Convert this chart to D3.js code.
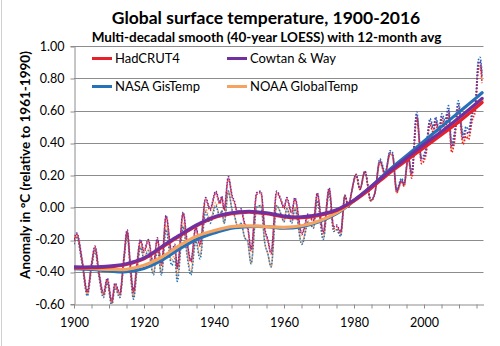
<!DOCTYPE html>
<html>
<head>
<meta charset="utf-8">
<script src="https://cdn.jsdelivr.net/npm/d3@7"></script>
<style>
  body { margin: 0; background: #fff; }
  svg { display: block; }
  text { font-family: Lato, "Open Sans", sans-serif; fill: #000; }
</style>
</head>
<body>
<svg id="chart" width="500" height="346"></svg>
<script>
// Sample times (decimal years) of the 12-month running averages
const avgYears = [
  1900.0, 1900.8, 1902.3, 1903.8, 1905.0, 1906.0, 1907.2, 1908.4, 1909.5, 1910.8,
  1911.7, 1913.1, 1914.2, 1915.2, 1916.1, 1917.0, 1918.0, 1919.0, 1920.0, 1921.2,
  1922.7, 1923.8, 1925.0, 1926.3, 1927.9, 1928.8, 1929.5, 1931.2, 1932.2, 1933.4,
  1934.8, 1936.0, 1937.6, 1938.9, 1940.5, 1941.7, 1942.2, 1942.9, 1944.1, 1945.2,
  1945.8, 1946.8, 1947.7, 1948.8, 1949.6, 1950.6, 1952.2, 1953.4, 1954.5, 1955.4,
  1956.3, 1957.9, 1959.1, 1960.0, 1960.8, 1962.2, 1963.1, 1965.1, 1967.0, 1968.4,
  1969.5, 1971.2, 1972.9, 1974.2, 1975.0, 1976.2, 1977.4, 1978.4, 1979.2, 1980.6,
  1981.7, 1983.1, 1984.8, 1985.9, 1987.4, 1988.9, 1990.3, 1991.0, 1992.2, 1993.6,
  1994.3, 1995.5, 1996.5, 1997.9, 1999.3, 2000.5, 2001.7, 2002.7, 2003.3, 2004.3,
  2005.1, 2006.0, 2007.0, 2007.9, 2008.6, 2009.8, 2011.2, 2012.0, 2012.7, 2013.8,
  2014.7, 2015.5, 2016.0, 2016.6
];

// 12-month average anomalies (°C, relative to 1961-1990)
const hadcrutAvg = [
  -0.21, -0.17, -0.33, -0.53, -0.36, -0.25, -0.42, -0.54, -0.45, -0.59,
  -0.48, -0.54, -0.33, -0.15, -0.36, -0.53, -0.35, -0.21, -0.28, -0.21,
  -0.36, -0.20, -0.36, -0.06, -0.28, -0.24, -0.38, -0.04, -0.20, -0.34,
  -0.13, -0.24, 0.05, -0.02, 0.09, 0.02, 0.06, -0.02, 0.18, 0.06,
  0.03, -0.04, -0.02, -0.11, -0.13, -0.27, 0.08, 0.09, -0.14, -0.21,
  -0.29, 0.09, 0.04, -0.01, 0.05, -0.04, 0.05, -0.17, -0.05, -0.09,
  0.08, -0.16, 0.11, -0.13, -0.12, -0.16, 0.07, 0.00, 0.08, 0.20,
  0.11, 0.22, 0.04, 0.08, 0.28, 0.20, 0.33, 0.32, 0.09, 0.16,
  0.13, 0.30, 0.18, 0.55, 0.27, 0.32, 0.51, 0.46, 0.52, 0.45,
  0.54, 0.48, 0.57, 0.34, 0.39, 0.60, 0.39, 0.44, 0.42, 0.54,
  0.60, 0.85, 0.87, 0.77
];
const cowtanAvg = [
  -0.20, -0.16, -0.32, -0.52, -0.35, -0.24, -0.41, -0.53, -0.44, -0.58,
  -0.47, -0.53, -0.32, -0.14, -0.35, -0.52, -0.34, -0.20, -0.27, -0.20,
  -0.35, -0.19, -0.35, -0.05, -0.27, -0.23, -0.37, -0.03, -0.19, -0.33,
  -0.12, -0.23, 0.06, -0.01, 0.10, 0.03, 0.07, -0.01, 0.19, 0.07,
  0.04, -0.03, -0.01, -0.10, -0.12, -0.26, 0.09, 0.10, -0.13, -0.20,
  -0.28, 0.10, 0.05, 0.00, 0.06, -0.03, 0.06, -0.16, -0.04, -0.08,
  0.09, -0.15, 0.12, -0.12, -0.11, -0.15, 0.075, 0.005, 0.085, 0.205,
  0.115, 0.225, 0.045, 0.085, 0.29, 0.21, 0.34, 0.33, 0.10, 0.17,
  0.14, 0.31, 0.205, 0.575, 0.295, 0.345, 0.535, 0.485, 0.545, 0.475,
  0.565, 0.515, 0.605, 0.375, 0.425, 0.635, 0.425, 0.475, 0.455, 0.575,
  0.635, 0.885, 0.905, 0.805
];
const nasaAvg = [
  -0.23, -0.19, -0.35, -0.55, -0.38, -0.27, -0.44, -0.56, -0.47, -0.61,
  -0.50, -0.56, -0.35, -0.17, -0.40, -0.57, -0.39, -0.25, -0.32, -0.27,
  -0.42, -0.26, -0.42, -0.14, -0.36, -0.32, -0.46, -0.12, -0.28, -0.42,
  -0.21, -0.32, -0.03, -0.10, 0.01, -0.06, -0.02, -0.10, 0.10, -0.02,
  -0.05, -0.12, -0.10, -0.19, -0.21, -0.35, 0.00, 0.01, -0.22, -0.29,
  -0.37, 0.01, -0.04, -0.09, -0.01, -0.10, -0.01, -0.23, -0.09, -0.13,
  0.04, -0.20, 0.09, -0.15, -0.14, -0.18, 0.07, 0.00, 0.08, 0.20,
  0.11, 0.22, 0.04, 0.08, 0.30, 0.22, 0.35, 0.34, 0.11, 0.18,
  0.15, 0.32, 0.22, 0.59, 0.31, 0.36, 0.55, 0.50, 0.56, 0.49,
  0.58, 0.54, 0.63, 0.40, 0.45, 0.66, 0.45, 0.50, 0.48, 0.60,
  0.66, 0.91, 0.93, 0.83
];
const noaaAvg = [
  -0.22, -0.18, -0.34, -0.54, -0.37, -0.26, -0.43, -0.55, -0.46, -0.60,
  -0.49, -0.55, -0.34, -0.16, -0.39, -0.56, -0.38, -0.24, -0.31, -0.26,
  -0.41, -0.25, -0.41, -0.11, -0.33, -0.29, -0.43, -0.10, -0.26, -0.40,
  -0.19, -0.30, -0.01, -0.08, 0.03, -0.06, -0.02, -0.10, 0.10, -0.02,
  -0.05, -0.12, -0.10, -0.19, -0.21, -0.35, 0.00, 0.01, -0.22, -0.29,
  -0.37, 0.01, -0.04, -0.09, 0.00, -0.09, 0.00, -0.22, -0.085, -0.125,
  0.045, -0.195, 0.095, -0.145, -0.135, -0.175, 0.07, 0.00, 0.08, 0.20,
  0.11, 0.22, 0.04, 0.08, 0.28, 0.20, 0.33, 0.32, 0.09, 0.16,
  0.13, 0.30, 0.195, 0.565, 0.285, 0.335, 0.525, 0.475, 0.535, 0.465,
  0.555, 0.495, 0.585, 0.355, 0.405, 0.615, 0.405, 0.455, 0.435, 0.555,
  0.615, 0.865, 0.885, 0.785
];

// Multi-decadal (40-year LOESS) smooth
const smoothYears = [
  1900, 1905, 1910, 1915, 1920, 1925, 1930, 1935, 1940, 1945, 1950, 1955,
  1960, 1965, 1970, 1975, 1980, 1985, 1990, 1995, 2000, 2005, 2010, 2015, 2016.6
];
const hadcrutSmooth = [
  -0.375, -0.375, -0.37, -0.355, -0.32, -0.25, -0.18, -0.115, -0.065, -0.04, -0.03, -0.04,
  -0.06, -0.065, -0.05, -0.02, 0.04, 0.12, 0.21, 0.29, 0.37, 0.45, 0.53, 0.62, 0.65
];
const cowtanSmooth = [
  -0.37, -0.37, -0.365, -0.35, -0.315, -0.245, -0.175, -0.11, -0.06, -0.035, -0.025, -0.035,
  -0.055, -0.06, -0.045, -0.015, 0.045, 0.13, 0.22, 0.305, 0.39, 0.47, 0.555, 0.645, 0.675
];
const nasaSmooth = [
  -0.38, -0.385, -0.395, -0.40, -0.38, -0.33, -0.26, -0.20, -0.16, -0.13, -0.12, -0.12,
  -0.13, -0.12, -0.09, -0.04, 0.04, 0.13, 0.23, 0.32, 0.41, 0.50, 0.59, 0.68, 0.71
];
const noaaSmooth = [
  -0.375, -0.38, -0.385, -0.385, -0.36, -0.31, -0.24, -0.18, -0.145, -0.12, -0.115, -0.12,
  -0.125, -0.115, -0.085, -0.035, 0.04, 0.125, 0.215, 0.30, 0.38, 0.46, 0.545, 0.635, 0.665
];

const seriesNames = ["HadCRUT4", "Cowtan & Way", "NASA GisTemp", "NOAA GlobalTemp"];
const seriesColors = ["#e8202a", "#7030a0", "#2672b8", "#f4a460"];

const yTickValues = [-0.6, -0.4, -0.2, 0.0, 0.2, 0.4, 0.6, 0.8, 1.0];
const yTickLabels = ["-0.60", "-0.40", "-0.20", "0.00", "0.20", "0.40", "0.60", "0.80", "1.00"];
const xTickValues = [1900, 1905, 1910, 1915, 1920, 1925, 1930, 1935, 1940, 1945, 1950, 1955,
                     1960, 1965, 1970, 1975, 1980, 1985, 1990, 1995, 2000, 2005, 2010, 2015];
const xLabelYears = [1900, 1920, 1940, 1960, 1980, 2000];

const titleText = "Global surface temperature, 1900-2016";
const subtitleText = "Multi-decadal smooth (40-year LOESS) with 12-month avg";
const yTitleText = "Anomaly in \u00b0C (relative to 1961-1990)";

const series = [
  { name: seriesNames[0], color: seriesColors[0], avg: hadcrutAvg, smooth: hadcrutSmooth },
  { name: seriesNames[1], color: seriesColors[1], avg: cowtanAvg, smooth: cowtanSmooth },
  { name: seriesNames[2], color: seriesColors[2], avg: nasaAvg, smooth: nasaSmooth },
  { name: seriesNames[3], color: seriesColors[3], avg: noaaAvg, smooth: noaaSmooth }
];

const svg = d3.select("#chart");
const plot = { left: 74, right: 483.5, top: 46, bottom: 304 };

const x = d3.scaleLinear().domain([1900, 2017]).range([plot.left, plot.right]);
const y = d3.scaleLinear().domain([-0.6, 1.0]).range([plot.bottom, plot.top]);

// chart frame edge
svg.append("line").attr("x1", 1.5).attr("x2", 1.5).attr("y1", 0).attr("y2", 346)
  .attr("stroke", "#d0d0d0").attr("stroke-width", 1);

// horizontal gridlines
svg.append("g").selectAll("line").data(yTickValues.slice(1)).join("line")
  .attr("x1", plot.left).attr("x2", plot.right)
  .attr("y1", d => Math.round(y(d)) + 0.5).attr("y2", d => Math.round(y(d)) + 0.5)
  .attr("stroke", "#8c8c8c").attr("stroke-width", 1);

// y axis
const yAxis = svg.append("g").attr("transform", `translate(${plot.left + 0.5},0)`)
  .call(d3.axisLeft(y).tickValues(yTickValues).tickSize(4).tickPadding(6)
    .tickFormat((d, i) => yTickLabels[i]));
yAxis.selectAll("line").attr("stroke", "#8c8c8c")
  .attr("transform", d => `translate(0,${Math.round(y(d)) + 0.5 - y(d)})`);
yAxis.select(".domain").attr("stroke", "#8c8c8c");
yAxis.selectAll("text").attr("font-size", 12.5).attr("fill", "#222")
  .style("font-family", "Lato, sans-serif");

// x axis
const xAxis = svg.append("g").attr("transform", `translate(0,${plot.bottom + 0.5})`)
  .call(d3.axisBottom(x).tickValues(xTickValues).tickSize(4).tickPadding(10)
    .tickSizeOuter(0)
    .tickFormat(d => xLabelYears.includes(d) ? String(d) : ""));
xAxis.selectAll("line").attr("stroke", "#8c8c8c");
xAxis.select(".domain").attr("stroke", "#8c8c8c");
xAxis.selectAll("text").attr("font-size", 12.5).attr("fill", "#222")
  .style("font-family", "Lato, sans-serif");

// clip the data to the plot area
svg.append("clipPath").attr("id", "plotClip").append("rect")
  .attr("x", plot.left).attr("y", plot.top - 10)
  .attr("width", plot.right - plot.left + 4).attr("height", plot.bottom - plot.top + 10);

const dataLayer = svg.append("g").attr("clip-path", "url(#plotClip)");

const avgLine = d3.line().x((d, i) => x(avgYears[i])).y(d => y(d)).curve(d3.curveMonotoneX);
const smoothLine = d3.line().x((d, i) => x(smoothYears[i])).y(d => y(d)).curve(d3.curveBasis);

// 12-month averages, dotted
[3, 2, 0, 1].forEach(k => {
  dataLayer.append("path").datum(series[k].avg)
    .attr("d", avgLine)
    .attr("fill", "none")
    .attr("stroke", series[k].color)
    .attr("stroke-width", 1.6)
    .attr("stroke-dasharray", "1.6,1.6");
});

// LOESS smooths, solid and heavy
const smoothClose = d3.line().x((d, i) => x(smoothYears[i])).y(d => y(d)).curve(d3.curveCatmullRom.alpha(0.5));
[2, 3, 0, 1].forEach(k => {
  dataLayer.append("path").datum(series[k].smooth)
    .attr("d", smoothClose)
    .attr("fill", "none")
    .attr("stroke", series[k].color)
    .attr("stroke-width", 3.2)
    .attr("stroke-linecap", "round");
});

// legend (two rows, two columns)
const legendPos = [[92, 58.5], [227, 58.5], [92, 86.5], [227, 86.5]];
series.forEach((s, i) => {
  const [lx, ly] = legendPos[i];
  const g = svg.append("g").attr("transform", `translate(${lx},${ly})`);
  g.append("line").attr("x1", 0).attr("x2", 20).attr("y1", 0).attr("y2", 0)
    .attr("stroke", s.color).attr("stroke-width", 3);
  g.append("text").attr("x", 23).attr("y", 4.5).attr("font-size", 13).text(s.name);
});

// titles
svg.append("text").attr("x", 266).attr("y", 24).attr("text-anchor", "middle")
  .attr("font-size", 17.5).attr("font-weight", "bold").text(titleText);
svg.append("text").attr("x", 266.5).attr("y", 42).attr("text-anchor", "middle")
  .attr("font-size", 13.5).attr("font-weight", "bold").text(subtitleText);
svg.append("text")
  .attr("transform", "translate(30,165) rotate(-90)")
  .attr("text-anchor", "middle").attr("font-size", 13.5).attr("font-weight", "bold")
  .text(yTitleText);
</script>
</body>
</html>
